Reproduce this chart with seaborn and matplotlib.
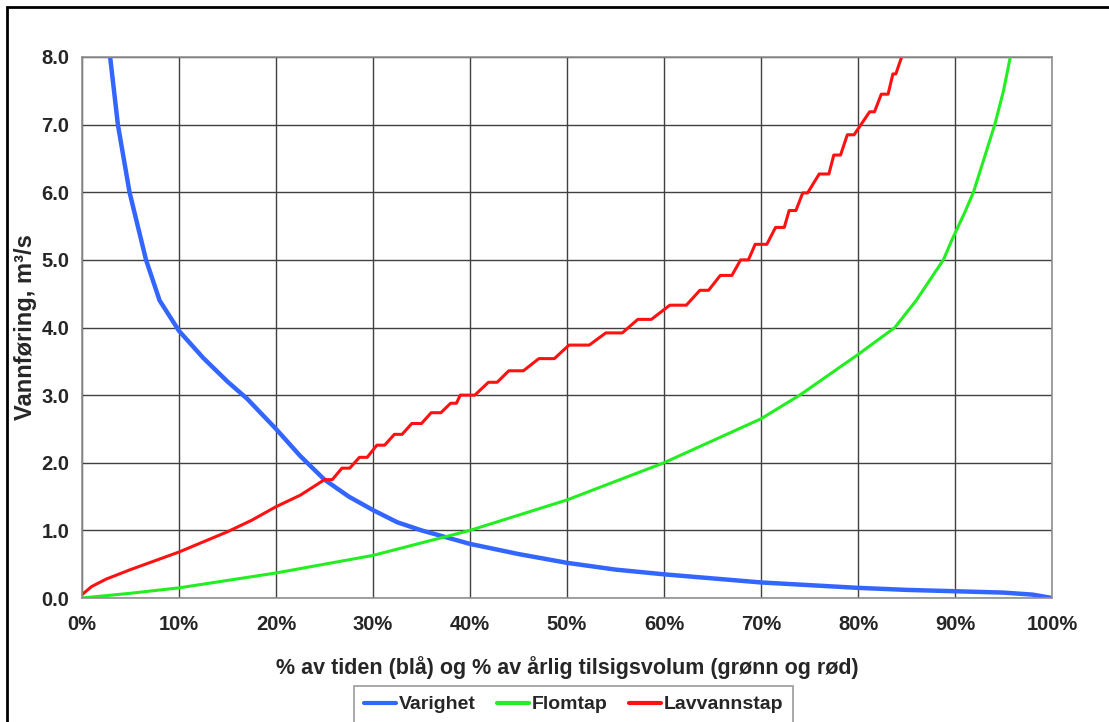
import numpy as np
import pandas as pd
import matplotlib
matplotlib.use('Agg')
import matplotlib.pyplot as plt
import matplotlib.patches as patches
import seaborn as sns

# Values (x in %, y in m3/s)
varighet_x = [2.9, 3.7, 4.9, 6.6, 8.0, 10.0, 12.5, 15.0, 17.0, 20.0, 22.5, 25.0, 27.5, 30.0,
              32.5, 35.0, 37.5, 40.0, 45.0, 50.0, 55.0, 60.0, 65.0, 70.0, 75.0, 80.0, 85.0,
              90.0, 95.0, 98.0, 100.0]
varighet_y = [8.0, 7.0, 6.0, 5.0, 4.4, 3.95, 3.55, 3.2, 2.95, 2.5, 2.1, 1.75, 1.5, 1.3,
              1.12, 1.0, 0.9, 0.8, 0.65, 0.52, 0.42, 0.35, 0.29, 0.23, 0.19, 0.15, 0.12,
              0.1, 0.08, 0.05, 0.0]

flomtap_x = [0.0, 5.0, 10.0, 20.0, 30.0, 40.0, 50.0, 60.0, 70.0, 74.0, 80.0, 83.8, 86.0,
             88.8, 89.7, 91.0, 91.9, 93.0, 94.1, 95.0, 95.7]
flomtap_y = [0.0, 0.07, 0.15, 0.37, 0.63, 1.0, 1.45, 2.0, 2.65, 3.0, 3.6, 4.0, 4.4,
             5.0, 5.3, 5.7, 6.0, 6.5, 7.0, 7.5, 8.0]

# red curve is stair-shaped: pairs of points mark the flat steps
lavvann_x = [0.0, 1.0, 2.5, 5.0, 7.5, 10.0, 12.5, 15.0, 17.5, 20.0, 22.5,
             25.0, 25.8, 26.8, 27.6, 28.6, 29.4, 30.4, 31.2, 32.2, 33.0, 34.0, 35.0,
             36.0, 37.0, 38.0, 38.6, 39.0, 40.5, 41.9, 42.8, 44.0, 45.5, 47.1, 48.7,
             50.2, 52.3, 54.0, 55.7, 57.3, 58.7, 60.6, 62.3, 63.7, 64.6, 65.8, 67.0,
             67.9, 68.7, 69.4, 70.6, 71.5, 72.4, 72.9, 73.6, 74.3, 74.8, 76.0, 77.0,
             77.5, 78.2, 78.9, 79.6, 81.2, 81.7, 82.4, 83.1, 83.6, 83.9, 84.5]
lavvann_y = [0.05, 0.17, 0.28, 0.42, 0.55, 0.68, 0.83, 0.98, 1.15, 1.35, 1.52,
             1.75, 1.75, 1.92, 1.92, 2.08, 2.08, 2.26, 2.26, 2.42, 2.42, 2.58, 2.58,
             2.74, 2.74, 2.88, 2.88, 3.0, 3.0, 3.19, 3.19, 3.36, 3.36, 3.54, 3.54,
             3.74, 3.74, 3.92, 3.92, 4.12, 4.12, 4.33, 4.33, 4.55, 4.55, 4.77, 4.77,
             5.0, 5.0, 5.23, 5.23, 5.48, 5.48, 5.73, 5.73, 5.99, 5.99, 6.27, 6.27,
             6.55, 6.55, 6.85, 6.85, 7.19, 7.19, 7.45, 7.45, 7.75, 7.75, 8.0]

x_ticks = [0, 10, 20, 30, 40, 50, 60, 70, 80, 90, 100]
y_ticks = [0.0, 1.0, 2.0, 3.0, 4.0, 5.0, 6.0, 7.0, 8.0]

df = pd.concat([
    pd.DataFrame({'x': varighet_x, 'y': varighet_y, 'serie': 'Varighet'}),
    pd.DataFrame({'x': flomtap_x, 'y': flomtap_y, 'serie': 'Flomtap'}),
    pd.DataFrame({'x': lavvann_x, 'y': lavvann_y, 'serie': 'Lavvannstap'}),
])

sns.set_style('white')
plt.rcParams['font.family'] = ['Liberation Sans', 'DejaVu Sans']
plt.rcParams['font.weight'] = 'bold'

fig = plt.figure(figsize=(11.09, 7.22), dpi=100)
ax = fig.add_axes([82 / 1109, 1 - 598 / 722, (1052 - 82) / 1109, (598 - 57) / 722])

palette = {'Varighet': '#3366ff', 'Flomtap': '#22ee22', 'Lavvannstap': '#ff1111'}
sns.lineplot(data=df, x='x', y='y', hue='serie', palette=palette, sort=False,
             estimator=None, ax=ax, linewidth=2.2)
# blue line is drawn thicker in the original
for line in ax.get_lines():
    if matplotlib.colors.to_hex(line.get_color()) == '#3366ff':
        line.set_linewidth(3.2)

ax.set_xlim(0, 100)
ax.set_ylim(0, 8)
ax.set_xticks(x_ticks)
ax.set_yticks(y_ticks)
ax.set_xticklabels([f'{t}%' for t in x_ticks], fontsize=14.5, fontweight='bold')
ax.set_yticklabels([f'{t:.1f}' for t in y_ticks], fontsize=14.5, fontweight='bold')
ax.tick_params(axis='both', direction='out', length=6, width=1, color='#808080')
ax.tick_params(axis='y', pad=3)
ax.tick_params(axis='x', pad=6)
ax.grid(True, color='#404040', linewidth=1)
ax.set_axisbelow(True)
for s in ax.spines.values():
    s.set_color('#909090')
    s.set_linewidth(1.2)

ax.set_xlabel('% av tiden (blå) og % av årlig tilsigsvolum (grønn og rød)',
              fontsize=15.5, fontweight='bold', labelpad=16)
ax.set_ylabel('Vannføring, m³/s', fontsize=17, fontweight='bold')
ax.yaxis.set_label_coords(-0.046, 0.5)

leg = ax.legend(loc='upper center', bbox_to_anchor=(573.5 / 1109, 1 - 686 / 722),
                bbox_transform=fig.transFigure, ncol=3, frameon=True, fancybox=False,
                handlelength=1.65, handletextpad=0.15, columnspacing=1.1,
                borderpad=0.5, borderaxespad=0, prop={'weight': 'bold', 'size': 14})
leg.get_frame().set_edgecolor('#808080')
leg.get_frame().set_linewidth(1.2)
for h in leg.get_lines():
    h.set_linewidth(3)

# outer border of the chart area
fig.patches.append(patches.Rectangle((7 / 1109, -0.5), 1.5, 1.5 - 7 / 722,
                                     transform=fig.transFigure, fill=False,
                                     edgecolor='black', linewidth=2))

fig.savefig('out.png', dpi=100)
